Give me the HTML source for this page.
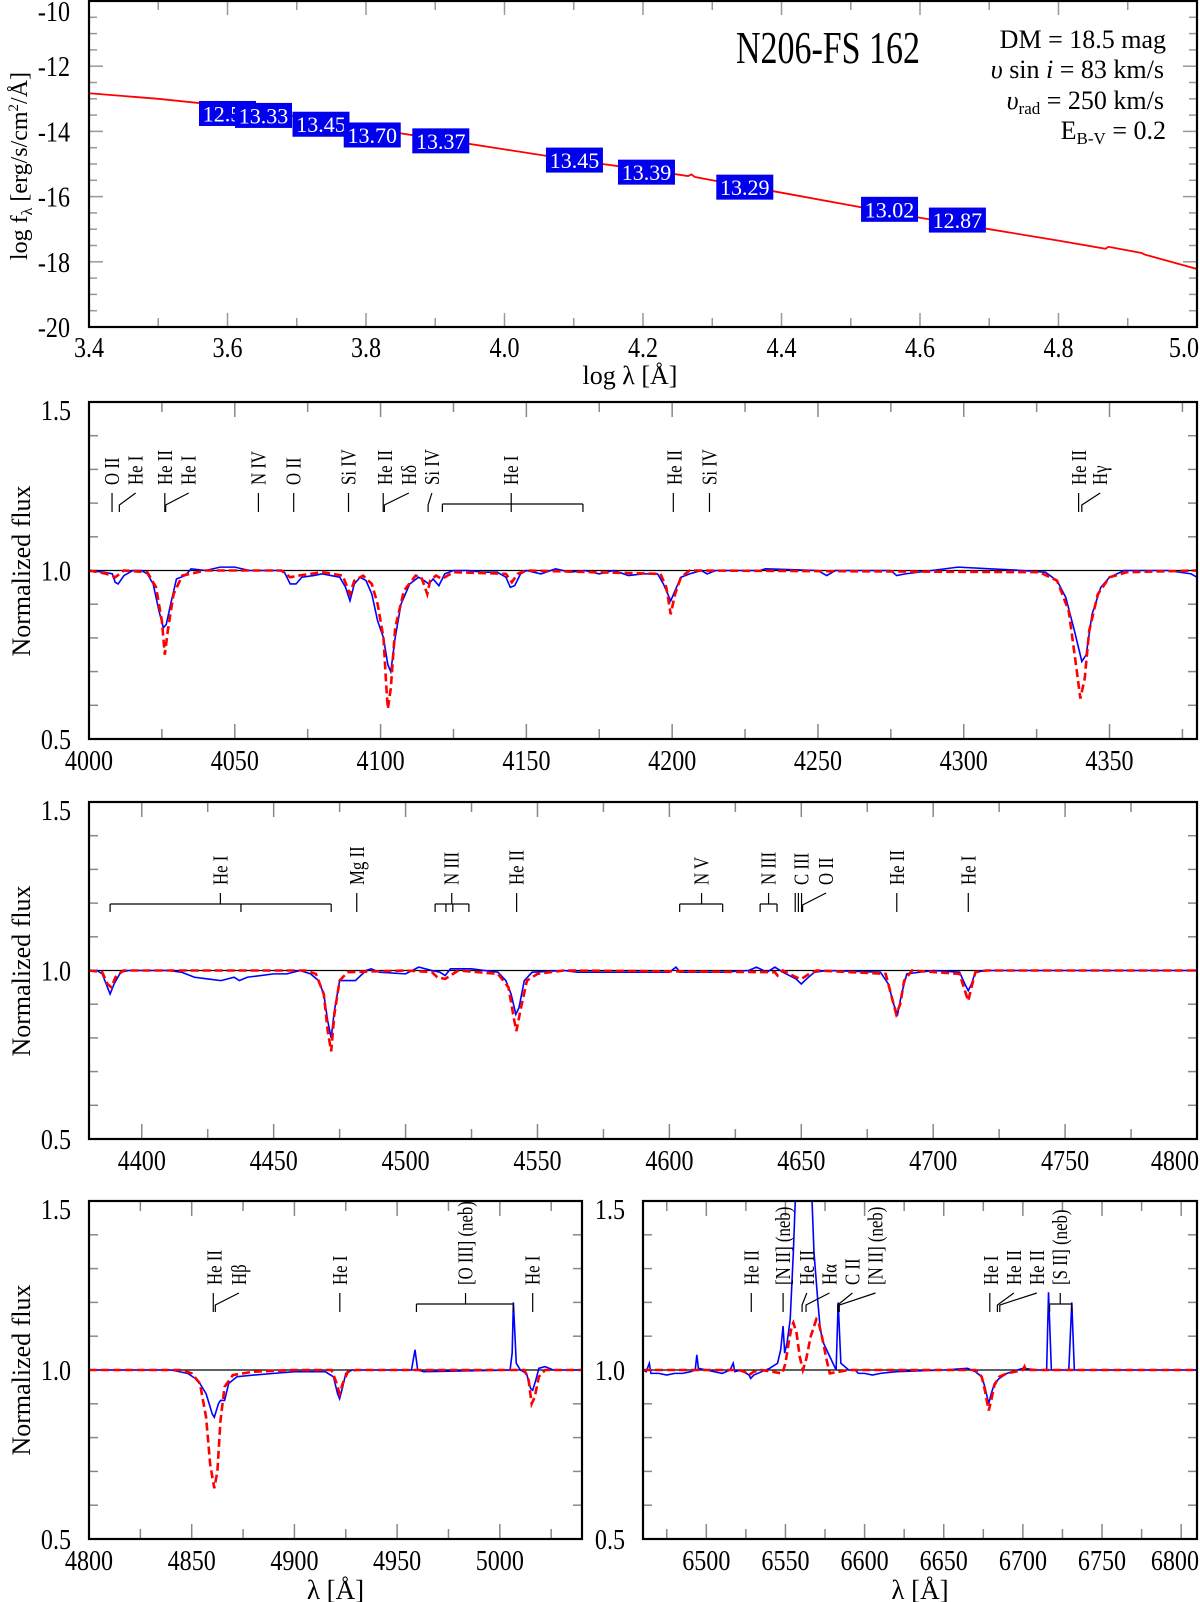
<!DOCTYPE html>
<html><head><meta charset="utf-8"><title>N206-FS 162</title>
<style>
html,body{margin:0;padding:0;background:#fff;}
svg{display:block;font-family:"Liberation Serif","DejaVu Serif",serif;}
</style></head>
<body>
<svg id="fig" width="1200" height="1602" viewBox="0 0 1200 1602" xmlns="http://www.w3.org/2000/svg">
</svg>
<script>
// ---------- SED panel data ----------
const sedLogLam = [3.4, 3.5, 3.6, 3.7, 3.8, 3.9, 4.0, 4.1, 4.2, 4.265, 4.27, 4.275, 4.3, 4.4, 4.5, 4.6, 4.7, 4.8, 4.868, 4.872, 4.92, 4.925, 5.0];
const sedLogF   = [-12.83, -13.0, -13.22, -13.55, -13.9, -14.22, -14.55, -14.88, -15.17, -15.37, -15.32, -15.40, -15.5, -15.88, -16.27, -16.65, -17.0, -17.35, -17.6, -17.54, -17.73, -17.78, -18.22];
const photLogLam = [3.600, 3.652, 3.735, 3.809, 3.908, 4.101, 4.205, 4.347, 4.556, 4.654];
const photLogF   = [-13.45, -13.51, -13.78, -14.11, -14.29, -14.88, -15.25, -15.71, -16.39, -16.72];
const photMags   = ["12.58", "13.33", "13.45", "13.70", "13.37", "13.45", "13.39", "13.29", "13.02", "12.87"];
const sedXTicks = ["3.4", "3.6", "3.8", "4.0", "4.2", "4.4", "4.6", "4.8", "5.0"];
const sedYTicks = ["-10", "-12", "-14", "-16", "-18", "-20"];

// ---------- Panel 2 (4000-4380) ----------
const p2ObsW = [4000,4005,4008,4009,4010,4012,4015,4018,4020,4022,4024,4025.5,4026.5,4028,4030,4033,4035,4040,4045,4050,4055,4060,4065,4067,4069,4071,4073,4077,4080,4083,4086,4088,4089.5,4091,4093,4095,4097,4099,4101,4102.5,4103.5,4105,4107,4110,4113,4115,4116.5,4118,4120,4122,4125,4130,4135,4140,4143,4144.5,4146,4148,4150,4155,4160,4165,4170,4175,4180,4185,4190,4195,4197,4199.5,4201,4203,4206,4210,4212,4215,4230,4232,4250,4253,4256,4275,4277,4280,4298,4320,4328,4332,4335,4338,4340.5,4342,4344,4347,4350,4355,4370,4378,4380];
const p2ObsF = [1.0,0.995,0.99,0.965,0.96,0.985,1.0,1.0,0.99,0.96,0.88,0.83,0.84,0.9,0.975,0.985,1.005,1.0,1.01,1.01,1.0,1.0,1.0,0.995,0.96,0.96,0.98,0.985,0.99,0.985,0.98,0.95,0.91,0.96,0.98,0.97,0.93,0.85,0.8,0.72,0.70,0.8,0.9,0.96,0.98,0.97,0.96,0.975,0.955,0.99,1.0,1.0,0.995,0.995,0.98,0.95,0.955,0.99,1.0,0.99,1.005,0.995,1.0,0.99,1.0,0.985,0.99,0.99,0.96,0.91,0.94,0.98,0.99,1.0,0.99,1.0,1.0,1.005,1.0,0.985,1.0,1.0,0.985,0.99,1.01,1.0,0.995,0.97,0.92,0.82,0.73,0.75,0.87,0.95,0.98,1.0,1.0,0.99,0.98];
const p2ModW = [4000,4006,4009,4012,4020,4023,4025,4026,4027,4029,4032,4040,4066,4069,4072,4080,4087,4089.5,4091,4094,4097,4099,4101,4102,4102.5,4103.5,4105,4108,4112,4114,4116,4117,4119,4121,4125,4143,4145,4147,4150,4196,4198,4199.5,4201,4203,4206,4326,4332,4336,4338.5,4340,4341.5,4343,4346,4350,4356,4380];
const p2ModF = [1.0,0.99,0.98,1.0,0.995,0.95,0.85,0.75,0.82,0.93,0.985,1.0,1.0,0.98,0.985,0.995,0.985,0.93,0.97,0.985,0.96,0.9,0.8,0.65,0.59,0.65,0.83,0.94,0.985,0.98,0.93,0.97,0.985,0.975,0.995,0.99,0.965,0.99,1.0,0.99,0.95,0.87,0.93,0.98,1.0,0.995,0.97,0.88,0.72,0.62,0.68,0.82,0.93,0.98,0.995,1.0];
const p2XTicks = ["4000","4050","4100","4150","4200","4250","4300","4350"];

// ---------- Panel 3 (4380-4800) ----------
const p3ObsW = [4380,4383,4385,4387,4388,4389.5,4392,4395,4410,4415,4420,4425,4430,4435,4437,4440,4450,4455,4460,4464,4467,4469,4470.5,4471.8,4473,4475,4478,4481,4485,4487,4490,4500,4505,4510,4513,4515,4517,4525,4530,4535,4538,4540,4541.8,4543,4545,4548,4560,4565,4600,4602.5,4604,4620,4630,4633,4637,4640,4643,4648,4650,4652,4655,4660,4680,4683,4685,4686.5,4688,4690,4700,4710,4712,4713.3,4714.5,4716,4720,4800];
const p3ObsF = [1.0,1.0,0.99,0.95,0.93,0.96,0.995,1.0,1.0,0.995,0.98,0.975,0.97,0.98,0.97,0.98,0.99,0.99,1.0,0.99,0.97,0.93,0.85,0.8,0.88,0.97,0.97,0.97,1.0,1.005,0.995,0.99,1.01,1.0,0.995,0.985,1.005,1.005,1.0,0.995,0.97,0.93,0.87,0.89,0.97,0.995,1.0,0.995,0.995,1.01,0.995,0.995,1.0,1.01,0.995,1.01,0.995,0.975,0.96,0.975,0.995,1.0,0.995,0.96,0.9,0.87,0.93,0.99,1.0,0.995,0.96,0.94,0.96,0.995,1.0,1.0];
const p3ModW = [4380,4385,4387,4388.5,4390,4393,4462,4466,4469,4470.5,4471.8,4473,4475,4478,4500,4510,4512,4515,4517,4520,4535,4539,4541,4542,4543.5,4546,4550,4560,4640,4641,4643,4648,4650,4653,4656,4682,4684,4686,4687.5,4689,4692,4710,4712,4713.3,4714.5,4716,4720,4800];
const p3ModF = [1.0,0.995,0.96,0.95,0.98,1.0,1.0,0.99,0.93,0.82,0.76,0.87,0.97,0.995,1.0,0.995,0.98,0.975,0.985,1.0,0.99,0.95,0.86,0.82,0.88,0.97,0.99,1.0,0.995,0.985,1.0,0.98,0.975,0.99,1.0,0.99,0.93,0.87,0.9,0.97,1.0,0.99,0.94,0.91,0.95,0.995,1.0,1.0];
const p3XTicks = ["4400","4450","4500","4550","4600","4650","4700","4750","4800"];

// ---------- Panel 4 left (4800-5040) ----------
const p4aObsW = [4800,4840,4848,4853,4857,4860,4861,4863,4864,4866,4868,4872,4880,4890,4900,4915,4919,4921,4922,4923.5,4925,4928,4957,4958.7,4960,4963,5005,5006,5006.6,5008,5010,5013,5015,5016,5017.5,5019,5022,5026,5040];
const p4aObsF = [1.0,1.0,0.99,0.97,0.93,0.87,0.86,0.9,0.91,0.91,0.96,0.98,0.985,0.99,0.995,0.995,0.98,0.93,0.915,0.95,0.99,1.0,1.0,1.06,1.0,0.995,1.0,1.05,1.2,1.02,1.0,0.99,0.945,0.94,0.97,1.005,1.01,1.0,1.0];
const p4aModW = [4800,4845,4850,4854,4857,4859,4861,4862.5,4864,4866,4870,4880,4900,4918,4920,4922,4923.5,4926,4930,5012,5014,5015.5,5017,5019,5022,5040];
const p4aModF = [1.0,1.0,0.99,0.96,0.86,0.72,0.65,0.7,0.85,0.95,0.985,0.995,1.0,1.0,0.97,0.93,0.96,0.995,1.0,1.0,0.97,0.9,0.92,0.98,1.0,1.0];
const p4aXTicks = ["4800","4850","4900","4950","5000"];

// ---------- Panel 4 right (6460-6810) ----------
const p4bObsW = [6460,6462,6464,6465,6470,6475,6480,6485,6490,6493,6494,6495,6500,6505,6510,6515,6517,6518,6522,6527,6528,6530,6535,6540,6545,6547,6548.5,6549.5,6551,6553,6555,6557,6560,6563,6566,6568,6570.5,6572,6574,6577,6580,6582,6583.3,6585,6590,6594,6596,6600,6605,6610,6620,6650,6665,6670,6674,6676,6678.4,6680,6682,6685,6690,6700,6710,6715,6716.2,6718,6725,6729,6730.9,6732.5,6740,6810];
const p4bObsF = [1.0,0.995,1.02,0.99,0.99,0.985,0.99,0.99,0.995,1.0,1.045,1.005,1.0,0.995,0.99,1.0,1.02,0.995,1.0,0.985,0.975,0.985,0.995,1.005,1.02,1.06,1.13,1.05,1.08,1.15,1.35,1.6,2.2,2.2,1.6,1.35,1.2,1.12,1.08,1.05,1.02,1.0,1.2,1.02,1.0,1.0,0.99,0.99,0.985,0.99,0.995,1.0,1.005,0.995,0.98,0.95,0.9,0.93,0.96,0.975,0.99,1.005,1.0,1.0,1.23,1.0,1.0,1.0,1.2,1.0,1.0,1.0];
const p4bModW = [6460,6520,6524,6527,6530,6535,6548,6550,6552,6554,6555,6557,6559,6561,6563,6566,6569.5,6571,6573,6576,6578,6590,6670,6674,6676,6678.4,6680,6682,6685,6690,6700,6701,6702,6810];
const p4bModF = [1.0,1.0,0.995,0.985,0.995,1.0,0.99,1.02,1.08,1.13,1.14,1.11,1.04,1.0,1.03,1.1,1.15,1.14,1.1,1.03,0.99,1.0,1.0,0.98,0.94,0.88,0.91,0.955,0.98,0.99,1.0,1.01,1.0,1.0];
const p4bXTicks = ["6500","6550","6600","6650","6700","6750","6800"];

const specYTicks = ["0.5","1.0","1.5"];

// ---------- Line identifications ----------
const ids2 = [
 {w:4007.9, lx:4007.9, t:"O II"}, {w:4010.4, lx:4016, t:"He I"},
 {w:4026.0, lx:4026.0, t:"He II"}, {w:4026.3, lx:4034.2, t:"He I"},
 {w:4058.1, lx:4058.1, t:"N IV"}, {w:4070.2, lx:4070.2, t:"O II"},
 {w:4089.0, lx:4089.0, t:"Si IV"}, {w:4100.9, lx:4101.5, t:"He II"},
 {w:4101.3, lx:4109.7, t:"Hδ"}, {w:4116.3, lx:4117.6, t:"Si IV"},
 {br:[4121.2,4144.8,4169.4], lx:4144.8, t:"He I"},
 {w:4200.4, lx:4200.8, t:"He II"}, {w:4212.8, lx:4212.8, t:"Si IV"},
 {w:4339.4, lx:4339.6, t:"He II"}, {w:4340.5, lx:4346.8, t:"Hγ"}
];
const ids3 = [
 {br:[4388.0,4437.6,4471.8], lx:4429.8, t:"He I"},
 {w:4481.5, lx:4481.5, t:"Mg II"},
 {br:[4511.2,4515.3,4517.9,4524.0], lx:4517.5, t:"N III"},
 {w:4542.1, lx:4542.1, t:"He II"},
 {br:[4603.9,4620.2], lx:4612.2, t:"N V"},
 {br:[4634.4,4640.8], lx:4637.6, t:"N III"},
 {w:4647.7, lx:4647.7, t:""}, {w:4648.9, lx:4648.9, t:""},
 {w:4650.1, lx:4650.1, t:"C III"}, {w:4650.5, lx:4659.4, t:"O II"},
 {w:4686.2, lx:4686.2, t:"He II"}, {w:4713.3, lx:4713.3, t:"He I"}
];
const ids4a = [
 {w:4860.5, lx:4861, t:"He II"}, {w:4861.5, lx:4873, t:"Hβ"},
 {w:4922.1, lx:4922.1, t:"He I"},
 {br:[4959.4,5006.6], lx:4983.3, t:"[O III] (neb)"},
 {w:5016, lx:5016, t:"He I"}
];
const ids4b = [
 {w:6528.4, lx:6528.4, t:"He II"}, {w:6548.5, lx:6548.5, t:"[N II] (neb)"},
 {w:6560.5, lx:6563.5, t:"He II"}, {w:6563, lx:6577.8, t:"Hα"},
 {w:6583.0, lx:6592.3, t:"C II"}, {w:6584.0, lx:6606.9, t:"[N II] (neb)"},
 {w:6679.1, lx:6679.8, t:"He I"}, {w:6683.9, lx:6694.3, t:"He II"},
 {w:6685.4, lx:6708.8, t:"He II"},
 {br:[6716.9,6730.9], lx:6723.6, t:"[S II] (neb)"}
];

// ---------- drawing helpers ----------
const NS = "http://www.w3.org/2000/svg";
const svg = document.getElementById("fig");
function mk(tag, attrs, parent) {
  const e = document.createElementNS(NS, tag);
  for (const k in attrs) e.setAttribute(k, attrs[k]);
  (parent || svg).appendChild(e);
  return e;
}
function txt(s, x, y, size, anchor, parent, extra) {
  const t = mk("text", Object.assign({x:x, y:y, "font-size":size, "text-anchor":anchor||"middle", fill:"#000"}, extra||{}), parent);
  t.textContent = s;
  return t;
}
// condensed tick label
function ctxt(s, x, y, size, anchor, parent) {
  const t = mk("text", {x:0, y:0, "font-size":size, "text-anchor":anchor||"middle", fill:"#000",
    transform:"translate("+x.toFixed(1)+","+y.toFixed(1)+") scale(0.86,1)"}, parent);
  t.textContent = s;
  return t;
}
function pathFrom(xs, ys, sx, sy) {
  let d = "";
  for (let i = 0; i < xs.length; i++) d += (i ? "L" : "M") + sx(xs[i]).toFixed(2) + "," + sy(ys[i]).toFixed(2);
  return d;
}

// ---------- SED panel ----------
(function(){
  const P = {x0:89, x1:1197, y0:1, y1:327, xmin:3.4, xmax:5.0, ymin:-20, ymax:-10};
  const sx = v => P.x0 + (v - P.xmin) / (P.xmax - P.xmin) * (P.x1 - P.x0);
  const sy = v => P.y1 - (v - P.ymin) / (P.ymax - P.ymin) * (P.y1 - P.y0);
  const g = mk("g", {});
  
  
  for (let v = 3.4; v <= 5.0001; v += 0.1) {
    const major = Math.round(v*10) % 2 === 0;
    const L = major ? 14 : 9;
    mk("line", {x1:sx(v), x2:sx(v), y1:P.y1, y2:P.y1-L, stroke:"#999", "stroke-width":1.5}, g);
    mk("line", {x1:sx(v), x2:sx(v), y1:P.y0, y2:P.y0+L, stroke:"#999", "stroke-width":1.5}, g);
  }
  for (let v = -20; v <= -9.999; v += 0.5) {
    const major = Math.abs(v % 2) < 0.01;
    const L = major ? 14 : 8;
    mk("line", {x1:P.x0, x2:P.x0+L, y1:sy(v), y2:sy(v), stroke:"#999", "stroke-width":1.5}, g);
    mk("line", {x1:P.x1, x2:P.x1-L, y1:sy(v), y2:sy(v), stroke:"#999", "stroke-width":1.5}, g);
  }
  sedXTicks.forEach(s => {
    let x = sx(parseFloat(s)), anchor = "middle";
    if (x > 1170) { x = 1199; anchor = "end"; }
    const t = ctxt(s, x, P.y1+30, 28, anchor, g);
    
    
  });
  sedYTicks.forEach(s => {
    const v = parseFloat(s);
    let y = sy(v) + 10; if (v === -10) y = 21;
    const t = ctxt(s, 70, y, 28, "end", g);
    
    
  });
  const ln = mk("path", {d:pathFrom(sedLogLam, sedLogF, sx, sy), fill:"none", stroke:"#ff0000", "stroke-width":1.8}, g);
  
  
  for (let i = 0; i < photLogLam.length; i++) {
    const cx = sx(photLogLam[i]), cy = sy(photLogF[i]);
    const r = mk("rect", {x:cx-28.5, y:cy-12.5, width:57, height:25, fill:"#0000ee"}, g);
    
    
    const t = txt(photMags[i], cx, cy+8, 22, "middle", g, {fill:"#fff"});
    
    
  }
  mk("rect", {x:P.x0, y:P.y0, width:P.x1-P.x0, height:P.y1-P.y0, fill:"none", stroke:"#000", "stroke-width":2.2}, g);
  const tt = txt("N206-FS 162", 828, 63, 46, "middle", g, {textLength:184, lengthAdjust:"spacingAndGlyphs"});
  
  
  const t1 = txt("DM = 18.5 mag", 1166, 48, 26, "end", g);
  
  
  const t2 = mk("text", {x:1164, y:78, "font-size":26, "text-anchor":"end"}, g);
  t2.innerHTML = '<tspan font-style="italic">υ</tspan> sin <tspan font-style="italic">i</tspan> = 83 km/s';
  
  
  const t3 = mk("text", {x:1164, y:109, "font-size":26, "text-anchor":"end"}, g);
  t3.innerHTML = '<tspan font-style="italic">υ</tspan><tspan font-size="17" dy="5">rad</tspan><tspan dy="-5"> = 250 km/s</tspan>';
  
  
  const t4 = mk("text", {x:1166, y:139, "font-size":26, "text-anchor":"end"}, g);
  t4.innerHTML = 'E<tspan font-size="17" dy="5">B-V</tspan><tspan dy="-5"> = 0.2</tspan>';
  
  
  const xl = mk("text", {x:630, y:384, "font-size":26, "text-anchor":"middle"}, g);
  xl.textContent = "log λ [Å]";
  
  
  const yl = mk("text", {x:0, y:0, "font-size":24, "text-anchor":"middle", transform:"translate(27,166) rotate(-90)"}, g);
  yl.innerHTML = 'log f<tspan font-size="16" dy="5">λ</tspan><tspan dy="-5"> [erg/s/cm</tspan><tspan font-size="15" dy="-9">2</tspan><tspan dy="9">/Å]</tspan>';
  
  
})();

// ---------- spectral panels ----------
let clipId = 0;
function specPanel(name, P, obsW, obsF, modW, modF, xTicks, ids, opt) {
  const sx = v => P.x0 + (v - P.xmin) / (P.xmax - P.xmin) * (P.x1 - P.x0);
  const sy = v => P.y1 - (v - 0.5) / 1.0 * (P.y1 - P.y0);
  const g = mk("g", {});
  
  
  const start = Math.ceil(P.xmin/25)*25;
  for (let v = start; v <= P.xmax + 0.01; v += 25) {
    const major = v % 50 === 0;
    const L = major ? 15 : 10;
    mk("line", {x1:sx(v), x2:sx(v), y1:P.y1, y2:P.y1-L, stroke:"#888", "stroke-width":1.5}, g);
    mk("line", {x1:sx(v), x2:sx(v), y1:P.y0, y2:P.y0+L, stroke:"#888", "stroke-width":1.5}, g);
  }
  for (let k = 0; k <= 10; k++) {
    const y = P.y0 + k*(P.y1-P.y0)/10;
    mk("line", {x1:P.x0, x2:P.x0+9, y1:y, y2:y, stroke:"#888", "stroke-width":1.5}, g);
    mk("line", {x1:P.x1, x2:P.x1-9, y1:y, y2:y, stroke:"#888", "stroke-width":1.5}, g);
  }
  xTicks.forEach(s => {
    let x = sx(parseFloat(s));
    let anchor = "middle";
    if (x > 1170) { anchor = "end"; x = 1199; }
    const t = ctxt(s, x, P.y1+31, 28, anchor, g);
    
    
  });
  specYTicks.forEach(s => {
    const v = parseFloat(s);
    let y = sy(v) + 10; if (v === 1.5) y = P.y0 + 18;
    const t = ctxt(s, P.x0 - 18, y, 28, "end", g);
    
    
  });
  const c = mk("line", {x1:P.x0, x2:P.x1, y1:sy(1.0), y2:sy(1.0), stroke:"#000", "stroke-width":1.2}, g);
  
  
  const id = "clip" + (clipId++);
  const cp = mk("clipPath", {id:id}, g);
  mk("rect", {x:P.x0, y:P.y0, width:P.x1-P.x0, height:P.y1-P.y0}, cp);
  const obs = mk("path", {d:pathFrom(obsW, obsF, sx, sy), fill:"none", stroke:"#0000ff", "stroke-width":1.6, "clip-path":"url(#"+id+")"}, g);
  
  
  const mod = mk("path", {d:pathFrom(modW, modF, sx, sy), fill:"none", stroke:"#ff0000", "stroke-width":2.6, "stroke-dasharray":"8,4", "clip-path":"url(#"+id+")"}, g);
  
  
  const tb = opt.textBase, tTop = opt.tickTop, tBot = opt.tickBot, barY = opt.barY;
  ids.forEach(o => {
    const ig = mk("g", {}, g);
    
    
    if (o.br) {
      const xs = o.br.map(sx);
      mk("line", {x1:xs[0], x2:xs[xs.length-1], y1:barY, y2:barY, stroke:"#000", "stroke-width":1.2}, ig);
      xs.forEach(x => mk("line", {x1:x, x2:x, y1:barY, y2:tBot, stroke:"#000", "stroke-width":1.2}, ig));
      mk("line", {x1:sx(o.lx), x2:sx(o.lx), y1:barY, y2:tTop, stroke:"#000", "stroke-width":1.2}, ig);
    } else if (Math.abs(o.lx - o.w) * (P.x1-P.x0)/(P.xmax-P.xmin) < 2.5) {
      mk("line", {x1:sx(o.w), x2:sx(o.w), y1:tTop, y2:tBot, stroke:"#000", "stroke-width":1.2}, ig);
    } else {
      const mid = tBot - 7;
      mk("polyline", {points: sx(o.w)+","+tBot+" "+sx(o.w)+","+mid+" "+sx(o.lx)+","+tTop, fill:"none", stroke:"#000", "stroke-width":1.2}, ig);
    }
    if (o.t) {
      const x = sx(o.lx) + 7;
      const t = mk("text", {x:0, y:0, "font-size":21, "text-anchor":"start", transform:"translate("+x.toFixed(1)+","+tb+") rotate(-90) scale(0.8,1)"}, ig);
      t.textContent = o.t;
    }
  });
  mk("rect", {x:P.x0, y:P.y0, width:P.x1-P.x0, height:P.y1-P.y0, fill:"none", stroke:"#000", "stroke-width":2.2}, g);
  if (opt.yTitle) {
    const yl = txt("Normalized flux", 0, 0, 26, "middle", g, {transform:"translate(30,"+((P.y0+P.y1)/2).toFixed(0)+") rotate(-90)"});
    
    
  }
  if (opt.xTitle) {
    const xl = txt("λ [Å]", (P.x0+P.x1)/2, 1599, 27, "middle", g);
    
    
  }
}

specPanel("panel-4000-4380", {x0:89, x1:1197, y0:402, y1:739, xmin:4000, xmax:4380},
  p2ObsW, p2ObsF, p2ModW, p2ModF, p2XTicks, ids2,
  {textBase:485, tickTop:493, tickBot:512, barY:504, yTitle:true});
specPanel("panel-4380-4800", {x0:89, x1:1197, y0:802, y1:1139, xmin:4380, xmax:4800},
  p3ObsW, p3ObsF, p3ModW, p3ModF, p3XTicks, ids3,
  {textBase:885, tickTop:893, tickBot:912, barY:904, yTitle:true});
specPanel("panel-4800-5040", {x0:89, x1:582, y0:1201, y1:1539, xmin:4800, xmax:5040},
  p4aObsW, p4aObsF, p4aModW, p4aModF, p4aXTicks, ids4a,
  {textBase:1285, tickTop:1293, tickBot:1312, barY:1304, yTitle:true, xTitle:true});
specPanel("panel-6460-6810", {x0:643, x1:1197, y0:1201, y1:1539, xmin:6460, xmax:6810},
  p4bObsW, p4bObsF, p4bModW, p4bModF, p4bXTicks, ids4b,
  {textBase:1285, tickTop:1293, tickBot:1312, barY:1304, xTitle:true});
</script>
</body></html>
